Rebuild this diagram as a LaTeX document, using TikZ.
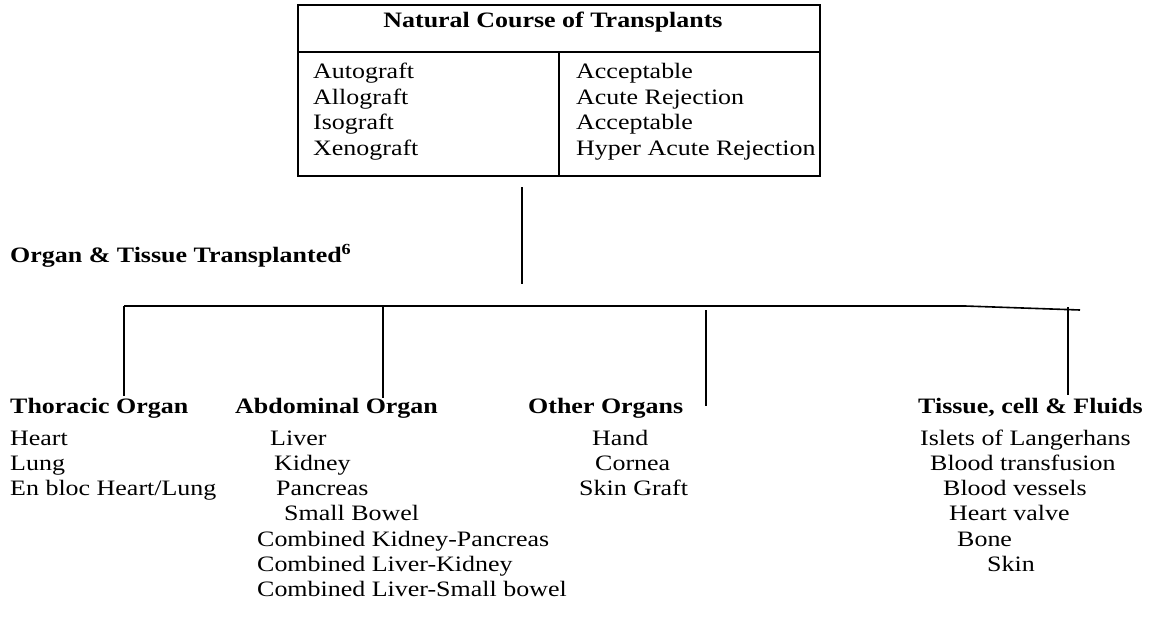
\documentclass[tikz,border=0pt]{standalone}
\usepackage{fontspec}
\setmainfont{Liberation Serif}[FakeStretch=1.18]
\begin{document}
\begin{tikzpicture}[x=1pt,y=-1pt,
  txt/.style={anchor=base west, inner sep=0pt, font=\fontsize{22}{25}\selectfont},
  hd/.style={anchor=base west, inner sep=0pt, font=\fontsize{22}{25}\selectfont\bfseries},
  ttl/.style={anchor=base, inner sep=0pt, font=\fontsize{22}{25}\selectfont\bfseries},
  ln/.style={line width=1.6pt, line cap=rect},
  conn/.style={line width=1.6pt}]
\useasboundingbox (0,0) rectangle (1151,634);
% table
\coordinate (tTL) at (298,5);
\coordinate (tBR) at (820,176);
\draw[ln] (tTL) rectangle (tBR);
\coordinate (hL) at (298,52); \coordinate (hR) at (820,52);
\draw[ln] (hL) -- (hR);
\coordinate (dT) at (559,52); \coordinate (dB) at (559,176);
\draw[ln] (dT) -- (dB);
\node[ttl] (title) at (553,28) {Natural Course of Transplants};
\node[txt] (r1a) at (313,78) {Autograft};
\node[txt] (r2a) at (313,104) {Allograft};
\node[txt] (r3a) at (313,129) {Isograft};
\node[txt] (r4a) at (313,155) {Xenograft};
\node[txt] (r1b) at (576,78) {Acceptable};
\node[txt] (r2b) at (576,104) {Acute Rejection};
\node[txt] (r3b) at (576,129) {Acceptable};
\node[txt] (r4b) at (576,155) {Hyper Acute Rejection};
% stem
\coordinate (sT) at (522,187); \coordinate (sB) at (522,284);
\draw[conn] (sT) -- (sB);
\node[hd] (otl) at (10,262) {Organ \& Tissue Transplanted\textsuperscript{6}};
% bus
\coordinate (b1) at (124,306);
\coordinate (b2) at (965,306);
\coordinate (b3) at (1080,310);
\draw[conn] (b1) -- (b2) -- (b3);
% drops
\coordinate (v1t) at (124,306); \coordinate (v1b) at (124,396);
\coordinate (v2t) at (383,306); \coordinate (v2b) at (383,398);
\coordinate (v3t) at (706,310); \coordinate (v3b) at (706,406);
\coordinate (v4t) at (1068,307); \coordinate (v4b) at (1068,395);
\draw[conn] (v1t) -- (v1b);
\draw[conn] (v2t) -- (v2b);
\draw[conn] (v3t) -- (v3b);
\draw[conn] (v4t) -- (v4b);
% headings
\node[hd] (h1) at (10,413) {Thoracic Organ};
\node[hd] (h2) at (235,413) {Abdominal Organ};
\node[hd] (h3) at (528,413) {Other Organs};
\node[hd] (h4) at (918,413) {Tissue, cell \& Fluids};
% column 1
\node[txt] (c1a) at (10,445) {Heart};
\node[txt] (c1b) at (10,470.3) {Lung};
\node[txt] (c1c) at (10,495.6) {En bloc Heart/Lung};
% column 2
\node[txt] (c2a) at (270,445) {Liver};
\node[txt] (c2b) at (274,470.3) {Kidney};
\node[txt] (c2c) at (276,495.6) {Pancreas};
\node[txt] (c2d) at (284,520.9) {Small Bowel};
\node[txt] (c2e) at (257,546.2) {Combined Kidney-Pancreas};
\node[txt] (c2f) at (257,571.5) {Combined Liver-Kidney};
\node[txt] (c2g) at (257,596.8) {Combined Liver-Small bowel};
% column 3
\node[txt] (c3a) at (592,445) {Hand};
\node[txt] (c3b) at (595,470.3) {Cornea};
\node[txt] (c3c) at (579,495.6) {Skin Graft};
% column 4
\node[txt] (c4a) at (920,445) {Islets of Langerhans};
\node[txt] (c4b) at (930,470.3) {Blood transfusion};
\node[txt] (c4c) at (943,495.6) {Blood vessels};
\node[txt] (c4d) at (949,520.9) {Heart valve};
\node[txt] (c4e) at (957,546.2) {Bone};
\node[txt] (c4f) at (987,571.5) {Skin};
\end{tikzpicture}
\end{document}
